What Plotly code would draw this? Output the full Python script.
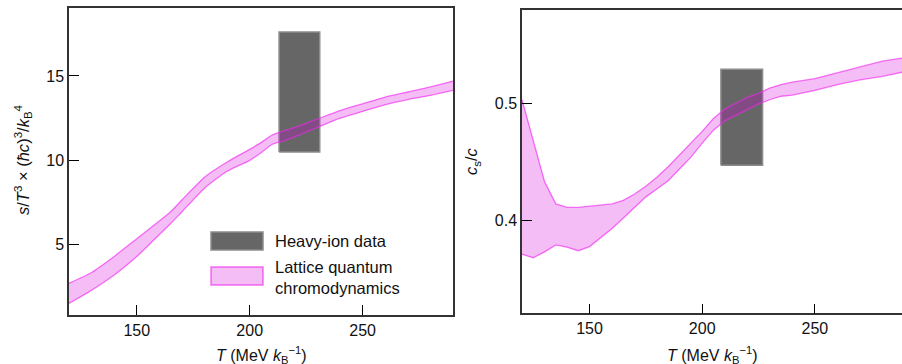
import plotly.graph_objects as go

# ---------------- data ----------------
# Left panel: entropy density s/T^3 (lattice QCD band)
T_left = [120, 130, 140, 150, 160, 165, 170, 180, 190, 200, 205, 210, 215, 220, 230, 240, 250, 260, 270, 280, 290]
s_upper = [2.71, 3.35, 4.3, 5.35, 6.4, 6.95, 7.65, 9.0, 9.9, 10.65, 11.05, 11.5, 11.75, 11.95, 12.45, 12.95, 13.35, 13.75, 14.05, 14.35, 14.7]
s_lower = [1.52, 2.3, 3.2, 4.3, 5.6, 6.25, 6.95, 8.35, 9.35, 10.0, 10.45, 10.95, 11.15, 11.4, 11.95, 12.5, 12.9, 13.3, 13.6, 13.85, 14.15]
# Heavy-ion data box (left)
hi_T_left = [213, 231]
hi_s = [10.5, 17.6]

# Right panel: speed of sound c_s/c (lattice QCD band)
T_right = [120, 125, 130, 135, 140, 145, 150, 155, 160, 165, 170, 175, 180, 185, 190, 195, 200, 205, 210, 215, 220, 225, 230, 235, 240, 250, 260, 270, 280, 290]
cs_upper = [0.503, 0.469, 0.433, 0.414, 0.411, 0.411, 0.412, 0.4125, 0.414, 0.417, 0.4225, 0.429, 0.437, 0.446, 0.456, 0.466, 0.476, 0.487, 0.495, 0.500, 0.505, 0.5085, 0.513, 0.516, 0.518, 0.521, 0.526, 0.531, 0.536, 0.539]
cs_lower = [0.371, 0.368, 0.373, 0.379, 0.377, 0.374, 0.3775, 0.385, 0.393, 0.402, 0.411, 0.420, 0.427, 0.434, 0.444, 0.454, 0.466, 0.477, 0.485, 0.490, 0.495, 0.4994, 0.503, 0.506, 0.507, 0.511, 0.516, 0.520, 0.523, 0.527]
# Heavy-ion data box (right)
hi_T_right = [208.3, 226.8]
hi_cs = [0.447, 0.529]

x_ticks = [150, 200, 250]
left_y_ticks = [5, 10, 15]
right_y_ticks = [0.4, 0.5]

# ---------------- styles ----------------
FONT = "Liberation Sans, Arial, Helvetica, sans-serif"
BOX_FILL = "#666666"
BOX_EDGE = "#8c8c8c"
BAND_FILL = "rgba(216,0,216,0.26)"
BAND_EDGE = "rgba(240,40,240,0.65)"
AXIS_COL = "#333333"

fig = go.Figure()


def add_box(xs, ys, xa, ya):
    fig.add_trace(go.Scatter(
        x=[xs[0], xs[1], xs[1], xs[0], xs[0]],
        y=[ys[0], ys[0], ys[1], ys[1], ys[0]],
        mode="lines", fill="toself", fillcolor=BOX_FILL,
        line=dict(color=BOX_EDGE, width=1.5),
        xaxis=xa, yaxis=ya, showlegend=False, hoverinfo="skip"))


def add_band(xs, lo, hi, xa, ya, shape):
    line = dict(color=BAND_EDGE, width=1.3, shape=shape)
    if shape == "spline":
        line["smoothing"] = 0.6
    fig.add_trace(go.Scatter(
        x=xs, y=lo, mode="lines", line=line,
        xaxis=xa, yaxis=ya, showlegend=False, hoverinfo="skip"))
    fig.add_trace(go.Scatter(
        x=xs, y=hi, mode="lines", fill="tonexty", fillcolor=BAND_FILL, line=line,
        xaxis=xa, yaxis=ya, showlegend=False, hoverinfo="skip"))


add_box(hi_T_left, hi_s, "x", "y")
add_band(T_left, s_lower, s_upper, "x", "y", "spline")
add_box(hi_T_right, hi_cs, "x2", "y2")
add_band(T_right, cs_lower, cs_upper, "x2", "y2", "linear")

axis_common = dict(
    showline=True, linecolor=AXIS_COL, linewidth=1.5,
    ticks="inside", ticklen=10, tickwidth=1, tickcolor="#000000",
    showgrid=False, zeroline=False,
    tickfont=dict(family=FONT, size=16, color="#111111"),
)

fig.update_layout(
    width=902, height=364,
    margin=dict(l=69, r=0, t=8, b=49),
    paper_bgcolor="white", plot_bgcolor="white",
    font=dict(family=FONT, size=16, color="#111111"),
    showlegend=False,
    xaxis=dict(domain=[0, 0.461], range=[120, 290], tickvals=x_ticks, mirror=True, anchor="y", **axis_common),
    yaxis=dict(domain=[0, 1], range=[0.83, 19.03], tickvals=left_y_ticks, mirror=True, anchor="x", **axis_common),
    xaxis2=dict(domain=[0.5438, 1], range=[120, 288.7], tickvals=x_ticks, mirror=True, anchor="y2", **axis_common),
    yaxis2=dict(domain=[0.0055, 0.9935], range=[0.3205, 0.5797], tickvals=right_y_ticks, mirror=False, anchor="x2", **axis_common),
)

xtitle = "<i>T</i> (MeV <i>k</i><sub>B</sub><sup>\u22121</sup>)"
annotations = [
    dict(text=xtitle, xref="x domain", yref="paper", x=0.5, y=-0.088, xanchor="center", yanchor="top", showarrow=False,
         font=dict(family=FONT, size=16)),
    dict(text=xtitle, xref="x2 domain", yref="paper", x=0.5, y=-0.088, xanchor="center", yanchor="top", showarrow=False,
         font=dict(family=FONT, size=16)),
    dict(text="<i>s</i>/<i>T</i><sup>3</sup> \u00d7 (<i>\u0127c</i>)<sup>3</sup>/<i>k</i><sub>B</sub><sup>4</sup>",
         xref="paper", yref="paper", x=-0.0552, y=0.505, xanchor="center", yanchor="middle", textangle=-90,
         showarrow=False, font=dict(family=FONT, size=16.5)),
    dict(text="<i>c</i><sub>s</sub>/<i>c</i>",
         xref="paper", yref="paper", x=0.484, y=0.502, xanchor="center", yanchor="middle", textangle=-90,
         showarrow=False, font=dict(family=FONT, size=16.5)),
    # legend text
    dict(text="Heavy-ion data", xref="x domain", yref="y domain", x=0.531, y=0.241, xanchor="left", yanchor="middle",
         showarrow=False, font=dict(family=FONT, size=16.5)),
    dict(text="Lattice quantum<br>chromodynamics", xref="x domain", yref="y domain", x=0.531, y=0.122,
         xanchor="left", yanchor="middle", align="left", showarrow=False, font=dict(family=FONT, size=16.5)),
]
fig.update_layout(annotations=annotations)

# legend swatches
fig.add_shape(type="rect", xref="x domain", yref="y domain", x0=0.3698, x1=0.5052, y0=0.2117, y1=0.2704,
              fillcolor=BOX_FILL, line=dict(color=BOX_EDGE, width=1.5))
fig.add_shape(type="rect", xref="x domain", yref="y domain", x0=0.3698, x1=0.5052, y0=0.0977, y1=0.1564,
              fillcolor=BAND_FILL, line=dict(color=BAND_EDGE, width=1.5))

fig.write_html("out.html")
